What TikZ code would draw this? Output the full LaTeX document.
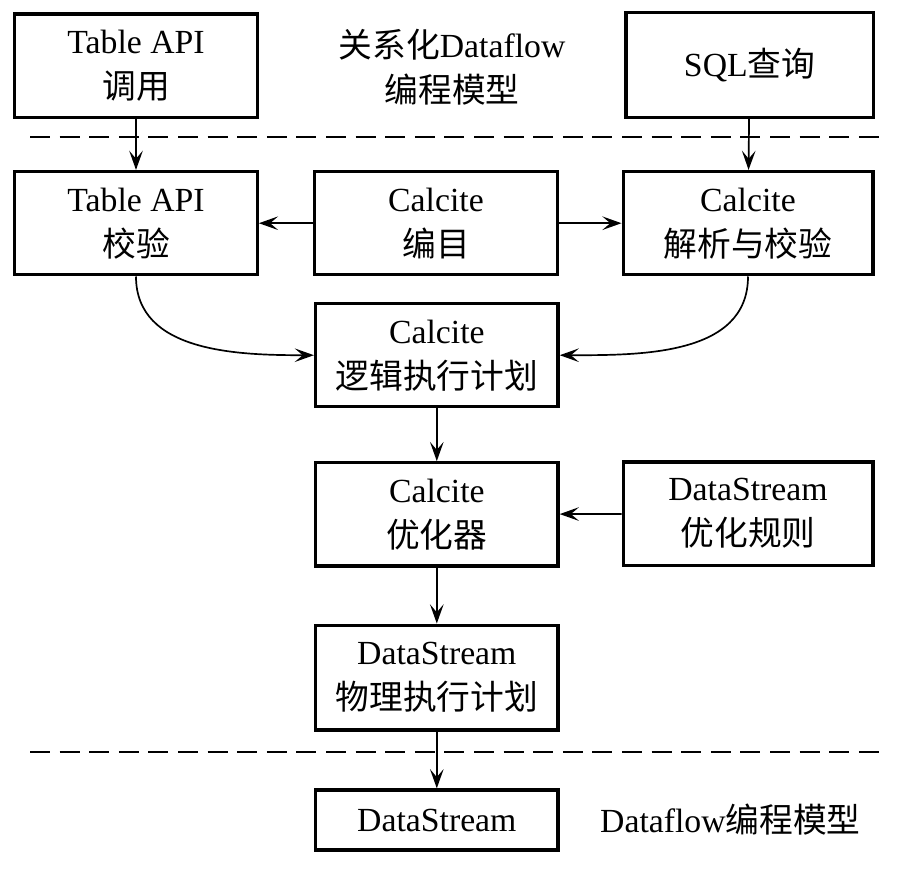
\documentclass[tikz,border=0pt]{standalone}
\usepackage{fontspec}
\setmainfont{Liberation Serif}
\newfontfamily\cjk{Noto Sans CJK SC}
\newcommand{\zh}[1]{{\cjk #1}}
\usetikzlibrary{positioning,calc,arrows,arrows.meta}
\tikzset{font=\fontsize{12}{16}\selectfont}

\begin{document}
\begin{tikzpicture}
	\useasboundingbox (0, 0) rectangle (11.4625, -11.05);
	\begin{scope}
		\tikzstyle{every node}=[align=center, inner sep=1pt]
		\tikzstyle{box}=[draw, line width=1.2pt, minimum width=3.03cm, minimum height=1.29cm]
		\tikzstyle{flow}=[line width=0.6pt, -{Stealth[length=2.4mm, width=1.7mm, inset=1mm]}]
		\tikzstyle{sep}=[line width=0.9pt, dash pattern=on 0.25cm off 0.12cm]

		\node[box] (api) at (1.70, -0.82) {Table API\\\zh{调用}};
		\node (title) at (5.65, -0.84) {\zh{关系化}Dataflow\\\zh{编程模型}};
		\node[box, minimum width=3.09cm, minimum height=1.31cm] (sql) at (9.37, -0.81) {SQL\zh{查询}};

		\node[box] (chk) at (1.70, -2.79) {Table API\\\zh{校验}};
		\node[box] (cat) at (5.45, -2.79) {Calcite\\\zh{编目}};
		\node[box, minimum width=3.12cm] (parse) at (9.35, -2.79) {Calcite\\\zh{解析与校验}};

		\node[box] (logic) at (5.46, -4.44) {Calcite\\\zh{逻辑执行计划}};
		\node[box] (opt) at (5.46, -6.43) {Calcite\\\zh{优化器}};
		\node[box, minimum width=3.12cm] (rule) at (9.35, -6.42) {DataStream\\\zh{优化规则}};
		\node[box, minimum height=1.31cm] (phys) at (5.46, -8.47) {DataStream\\\zh{物理执行计划}};
		\node[box, minimum height=0.75cm] (ds) at (5.46, -10.25) {DataStream};
		\node (model) at (9.13, -10.25) {Dataflow\zh{编程模型}};

		\coordinate (s1a) at (0.375, -1.71);
		\coordinate (s1b) at (11.1, -1.71);
		\coordinate (s2a) at (0.375, -9.40);
		\coordinate (s2b) at (11.1, -9.40);
		\draw[sep] (s1a) -- (s1b);
		\draw[sep] (s2a) -- (s2b);

		\draw[flow] (api) -- (chk);
		\draw[flow] (sql) -- (parse);
		\draw[flow] (cat) -- (chk);
		\draw[flow] (cat) -- (parse);
		\draw[flow] (chk.south) to[out=-90, in=180] (logic.west);
		\draw[flow] (parse.south) to[out=-90, in=0] (logic.east);
		\draw[flow] (logic) -- (opt);
		\draw[flow] (rule) -- (opt);
		\draw[flow] (opt) -- (phys);
		\draw[flow] (phys) -- (ds);
	\end{scope}
\end{tikzpicture}
\end{document}
